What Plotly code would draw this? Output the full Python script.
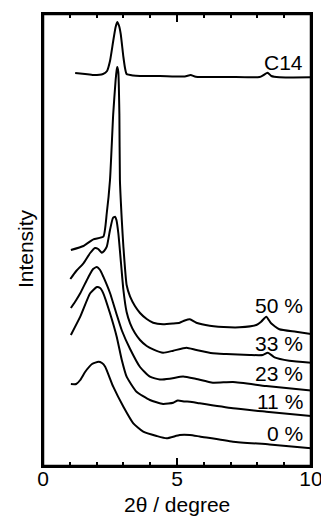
import plotly.graph_objects as go

# 2theta (degree) and intensity (a.u.)
x_c14 = [1.20, 1.57, 1.88, 2.24, 2.39, 2.50, 2.62, 2.71, 2.77, 2.84, 2.90, 3.00, 3.06, 3.12, 3.36, 3.62, 4.36, 5.29, 5.51, 5.70, 6.96, 8.08, 8.23, 8.38, 8.52, 8.82, 10.0]
y_c14 = [393, 392, 391, 392, 395, 405, 425, 439, 444, 440, 432, 409, 398, 392, 390.5, 390, 390, 389.5, 391, 389.3, 389, 389, 391, 393.3, 390, 388.7, 388.7]

x_50 = [1.04, 1.51, 1.88, 2.25, 2.38, 2.50, 2.62, 2.71, 2.75, 2.77, 2.81, 2.85, 2.87, 2.94, 3.00, 3.12, 3.25, 3.43, 3.62, 3.87, 4.11, 4.48, 4.86, 5.10, 5.29, 5.48, 5.72, 6.22, 6.96, 7.33, 7.96, 8.14, 8.33, 8.51, 8.82, 9.44, 10.0]
y_50 = [216, 220, 226.7, 229.3, 253, 286, 352, 386, 396, 399, 394, 352, 286, 246, 219.3, 181, 169.3, 160, 153, 147, 143.3, 141.7, 142.5, 143.3, 145.5, 146.7, 143.3, 140.3, 138.7, 138.7, 141, 144.3, 149.3, 142.7, 136.7, 134.3, 132]

x_33 = [1.02, 1.24, 1.51, 1.76, 1.94, 2.06, 2.19, 2.28, 2.38, 2.50, 2.61, 2.69, 2.74, 2.81, 2.91, 3.00, 3.12, 3.25, 3.43, 3.62, 3.87, 4.11, 4.48, 4.86, 5.35, 5.72, 6.34, 6.84, 7.71, 8.20, 8.39, 8.64, 9.19, 10.0]
y_33 = [187, 195, 202.7, 213, 218, 217, 213.3, 215, 219.3, 236, 248, 249.3, 246, 233, 203, 176, 154, 142.7, 133, 126, 120, 116.7, 113.3, 115.3, 118.3, 116, 112.7, 112, 111, 111, 113.3, 108.7, 105.3, 103.3]

x_23 = [1.04, 1.24, 1.39, 1.70, 1.87, 2.01, 2.13, 2.25, 2.50, 2.72, 2.95, 3.25, 3.62, 3.99, 4.36, 4.73, 5.23, 5.72, 6.34, 7.09, 8.33, 10.0]
y_23 = [158, 166, 172.7, 189.3, 197, 199, 196, 189.3, 173, 154, 135, 117, 99, 89.3, 86.5, 87.3, 89.5, 87, 83.3, 84, 80, 75.5]

x_11 = [1.04, 1.39, 1.76, 2.01, 2.13, 2.25, 2.50, 2.75, 2.94, 3.12, 3.49, 3.99, 4.48, 4.86, 5.03, 5.29, 5.48, 5.85, 7.09, 8.33, 10.0]
y_11 = [131, 149.3, 172.7, 179, 178, 172.7, 152.7, 129.3, 106, 89.3, 74.3, 66, 62, 63.3, 65.5, 64.5, 64.3, 62.7, 57.7, 54.3, 50]

x_0 = [1.04, 1.24, 1.39, 1.57, 1.83, 2.07, 2.20, 2.32, 2.62, 3.00, 3.37, 3.74, 4.24, 4.61, 5.10, 5.48, 5.85, 7.09, 8.45, 10.0]
y_0 = [82, 82, 86, 94, 102, 104.3, 103, 99.3, 79.3, 59.3, 42.7, 34.3, 30, 27.7, 31, 31, 29.5, 24.3, 21.5, 17.7]

labels = ["C14", "50 %", "33 %", "23 %", "11 %", "0 %"]
label_y = [404, 161, 123, 93, 64.5, 33]
label_x = 9.78

minor_ticks = [0, 1, 2, 3, 4, 5, 6, 7, 8, 9, 10]
minor_text = ["0", "", "", "", "", "5", "", "", "", "", "10"]
major_ticks = [0, 5, 10]

series = [(x_c14, y_c14), (x_50, y_50), (x_33, y_33), (x_23, y_23), (x_11, y_11), (x_0, y_0)]

FONT = "Arial, Liberation Sans, sans-serif"
fig = go.Figure()
for i, (xs, ys) in enumerate(series):
    fig.add_trace(go.Scatter(x=xs, y=ys, mode="lines",
                             xaxis="x2" if i == 0 else "x",
                             line=dict(color="black", width=2, shape="spline", smoothing=0.5),
                             showlegend=False, hoverinfo="skip"))

for t, yy in zip(labels, label_y):
    fig.add_annotation(x=label_x, y=yy, text=t, showarrow=False, xanchor="right", yanchor="middle",
                       font=dict(family=FONT, size=21, color="black"))

fig.add_annotation(xref="paper", yref="paper", x=0.5, y=-0.086, text="2θ / degree", showarrow=False,
                   xanchor="center", yanchor="middle", font=dict(family=FONT, size=21, color="black"))
fig.add_annotation(xref="paper", yref="paper", x=-0.067, y=0.48, text="Intensity", showarrow=False,
                   textangle=-90, xanchor="center", yanchor="middle", font=dict(family=FONT, size=21, color="black"))

# frame around the plotting area
fig.add_shape(type="rect", xref="paper", yref="paper", x0=0, y0=0, x1=1, y1=1,
              line=dict(color="black", width=2.5), layer="above")

fig.update_layout(
    width=321, height=519,
    margin=dict(l=43, r=10, t=14, b=53, autoexpand=False),
    paper_bgcolor="white", plot_bgcolor="white",
    font=dict(family=FONT, size=21, color="black"),
    xaxis=dict(range=[0, 10], tickmode="array", tickvals=minor_ticks, ticktext=minor_text,
               ticks="inside", ticklen=4, tickwidth=2, tickcolor="black",
               showline=True, linecolor="black", linewidth=2, mirror="ticks",
               showgrid=False, zeroline=False, automargin=False, ticklabeloverflow="allow",
               ticklabelstandoff=-7,
               tickfont=dict(family=FONT, size=21, color="black")),
    xaxis2=dict(range=[0, 10], tickmode="array", tickvals=major_ticks, overlaying="x", side="bottom",
                ticks="inside", ticklen=8, tickwidth=2, tickcolor="black", showticklabels=False,
                showline=True, linecolor="black", linewidth=2, mirror="ticks",
                showgrid=False, zeroline=False, automargin=False),
    yaxis=dict(range=[0, 452], showticklabels=False, ticks="", showline=True, linecolor="black", linewidth=2,
               mirror=True, showgrid=False, zeroline=False, automargin=False),
)
fig.write_html("out.html", config={"displayModeBar": False},
               post_script="document.body.style.margin='0';document.body.style.padding='0';document.body.style.overflow='hidden';")
